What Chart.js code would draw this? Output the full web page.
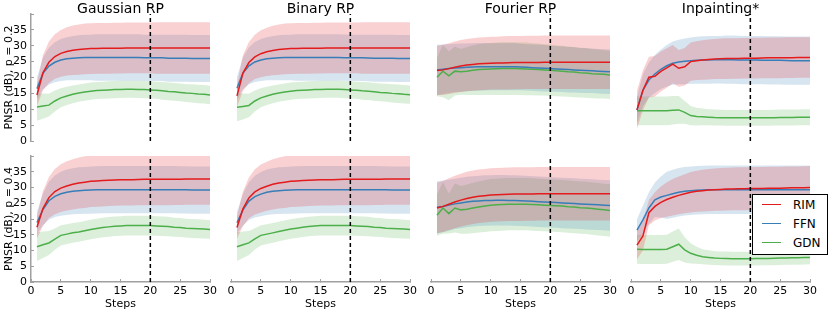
<!DOCTYPE html>
<html>
<head>
<meta charset="utf-8">
<script src="https://cdn.jsdelivr.net/npm/chart.js@4.4.1/dist/chart.umd.min.js"></script>
<style>
  html, body { margin: 0; padding: 0; background: #fff; }
  #fig { position: relative; width: 830px; height: 311px; overflow: hidden; font-family: "DejaVu Sans", sans-serif; }
  #fig canvas { position: absolute; }
  .ttl { position: absolute; top: -1px; width: 200px; text-align: center; font-size: 14px; line-height: 18px; color: #000; }
  #legend { position: absolute; left: 752px; top: 194px; width: 74px; height: 59px; border: 1px solid #000; background: #fff; font-size: 12px; color: #000; }
  #legend .item { position: absolute; left: 0; width: 74px; height: 14px; line-height: 14px; }
  #legend .swatch { position: absolute; left: 9px; top: 6px; width: 19px; height: 0; border-top: 1.5px solid; }
  #legend .lbl { position: absolute; left: 40px; top: 0; }
</style>
</head>
<body>
<div id="fig"></div>
<script>
// x positions of the reconstruction steps
const STEPS = [1, 2, 3, 4, 5, 6, 7, 8, 9, 10, 11, 12, 13, 14, 15, 16, 17, 18, 19, 20, 21, 22, 23, 24, 25, 26, 27, 28, 29, 30];
const STOP_STEP = 20;
const X_MIN = 0, X_MAX = 30, X_STEP = 5;
const Y_MIN = 0, Y_MAX = 40, Y_STEP = 5;

const METHODS = ["Gaussian RP", "Binary RP", "Fourier RP", "Inpainting*"];
const ROW_LABELS = ["PNSR (dB), p = 0.2", "PNSR (dB), p = 0.4"];
const SERIES = ["RIM", "FFN", "GDN"];
const COLORS = ["#e41a1c", "#377eb8", "#4daf4a"];
const FILLS = ["rgba(228,26,28,0.2)", "rgba(55,126,184,0.2)", "rgba(77,175,74,0.2)"];

// ---- p = 0.2 ----
const G2_RIM = [14.5, 21.5, 24.8, 26.6, 27.6, 28.2, 28.6, 28.8, 29.0, 29.1, 29.15, 29.2, 29.2, 29.25, 29.25, 29.3, 29.3, 29.3, 29.3, 29.3, 29.3, 29.3, 29.3, 29.3, 29.3, 29.3, 29.3, 29.3, 29.3, 29.3];
const G2_RIM_SD = [3.5, 5.5, 6.5, 7.0, 7.4, 7.6, 7.8, 7.9, 8.0, 8.0, 8.0, 8.0, 8.0, 8.0, 8.0, 8.0, 8.0, 8.0, 8.0, 8.0, 8.1, 8.1, 8.1, 8.1, 8.1, 8.1, 8.1, 8.1, 8.1, 8.1];
const G2_FFN = [16.5, 21.3, 23.6, 24.8, 25.5, 25.9, 26.1, 26.2, 26.3, 26.3, 26.3, 26.3, 26.3, 26.3, 26.3, 26.3, 26.3, 26.3, 26.2, 26.2, 26.2, 26.2, 26.1, 26.1, 26.1, 26.1, 26.0, 26.0, 26.0, 26.0];
const G2_FFN_SD = [3.5, 5.0, 5.8, 6.3, 6.6, 6.8, 7.0, 7.1, 7.2, 7.2, 7.3, 7.3, 7.3, 7.3, 7.3, 7.3, 7.3, 7.3, 7.3, 7.3, 7.3, 7.3, 7.4, 7.4, 7.4, 7.4, 7.4, 7.4, 7.4, 7.4];
const G2_GDN = [10.7, 11.0, 11.3, 12.6, 13.6, 14.2, 14.7, 15.1, 15.4, 15.7, 15.9, 16.0, 16.1, 16.2, 16.25, 16.3, 16.3, 16.25, 16.2, 16.1, 16.0, 15.8, 15.6, 15.5, 15.3, 15.1, 15.0, 14.8, 14.7, 14.5];
const G2_GDN_SD = [4.3, 4.0, 3.6, 3.3, 3.0, 2.9, 2.8, 2.7, 2.7, 2.7, 2.7, 2.7, 2.7, 2.7, 2.7, 2.7, 2.7, 2.7, 2.7, 2.7, 2.7, 2.8, 2.8, 2.8, 2.8, 2.8, 2.9, 2.9, 2.9, 2.9];

const B2_RIM = [14.2, 21.4, 24.7, 26.5, 27.5, 28.1, 28.5, 28.8, 29.0, 29.1, 29.15, 29.2, 29.2, 29.25, 29.25, 29.3, 29.3, 29.3, 29.3, 29.3, 29.3, 29.3, 29.3, 29.3, 29.3, 29.3, 29.3, 29.3, 29.3, 29.3];
const B2_RIM_SD = [3.5, 5.6, 6.5, 7.0, 7.4, 7.6, 7.8, 7.9, 8.0, 8.0, 8.0, 8.0, 8.0, 8.0, 8.0, 8.0, 8.0, 8.0, 8.0, 8.0, 8.0, 8.1, 8.1, 8.1, 8.1, 8.1, 8.1, 8.1, 8.1, 8.1];
const B2_FFN = [16.6, 21.4, 23.7, 24.9, 25.5, 25.9, 26.1, 26.2, 26.3, 26.3, 26.3, 26.3, 26.3, 26.3, 26.3, 26.3, 26.3, 26.3, 26.25, 26.2, 26.2, 26.2, 26.15, 26.1, 26.1, 26.1, 26.05, 26.0, 26.0, 26.0];
const B2_FFN_SD = [3.6, 5.0, 5.8, 6.3, 6.6, 6.8, 7.0, 7.1, 7.2, 7.2, 7.3, 7.3, 7.3, 7.3, 7.3, 7.3, 7.3, 7.3, 7.3, 7.3, 7.3, 7.3, 7.3, 7.4, 7.4, 7.4, 7.4, 7.4, 7.4, 7.4];
const B2_GDN = [10.6, 10.9, 11.2, 12.6, 13.6, 14.2, 14.7, 15.1, 15.4, 15.7, 15.9, 16.0, 16.1, 16.2, 16.25, 16.3, 16.3, 16.3, 16.2, 16.1, 16.0, 15.8, 15.7, 15.5, 15.3, 15.2, 15.0, 14.9, 14.7, 14.6];
const B2_GDN_SD = [4.4, 4.1, 3.7, 3.3, 3.0, 2.9, 2.8, 2.7, 2.7, 2.7, 2.7, 2.7, 2.7, 2.7, 2.7, 2.7, 2.7, 2.7, 2.7, 2.7, 2.7, 2.8, 2.8, 2.8, 2.8, 2.8, 2.9, 2.9, 2.9, 2.9];

const F2_RIM = [22.2, 22.4, 22.8, 23.2, 23.6, 23.9, 24.1, 24.3, 24.4, 24.5, 24.55, 24.6, 24.65, 24.7, 24.7, 24.75, 24.75, 24.75, 24.8, 24.8, 24.8, 24.8, 24.8, 24.8, 24.8, 24.8, 24.8, 24.8, 24.8, 24.8];
const F2_RIM_SD = [7.8, 7.9, 8.0, 8.1, 8.2, 8.2, 8.3, 8.3, 8.3, 8.3, 8.3, 8.4, 8.4, 8.4, 8.4, 8.4, 8.4, 8.4, 8.4, 8.4, 8.4, 8.4, 8.4, 8.4, 8.4, 8.4, 8.4, 8.4, 8.4, 8.4];
const F2_FFN = [22.4, 22.6, 22.8, 23.0, 23.1, 23.2, 23.3, 23.35, 23.4, 23.4, 23.4, 23.4, 23.4, 23.35, 23.3, 23.2, 23.1, 23.0, 22.9, 22.8, 22.7, 22.6, 22.5, 22.4, 22.3, 22.2, 22.1, 22.0, 21.9, 21.8];
const F2_FFN_SD = [7.9, 7.8, 7.7, 7.6, 7.6, 7.5, 7.5, 7.5, 7.5, 7.4, 7.4, 7.4, 7.4, 7.4, 7.3, 7.3, 7.3, 7.3, 7.3, 7.2, 7.2, 7.2, 7.2, 7.1, 7.1, 7.1, 7.0, 7.0, 7.0, 7.0];
const F2_GDN = [20.1, 22.0, 20.5, 22.0, 21.8, 22.0, 22.3, 22.5, 22.6, 22.7, 22.75, 22.8, 22.8, 22.8, 22.75, 22.7, 22.6, 22.5, 22.4, 22.3, 22.1, 22.0, 21.8, 21.7, 21.5, 21.4, 21.2, 21.1, 21.0, 20.8];
const F2_GDN_SD = [6.0, 8.2, 7.7, 7.7, 7.2, 7.5, 7.8, 8.0, 8.1, 8.2, 8.3, 8.3, 8.3, 8.3, 8.3, 8.3, 8.2, 8.2, 8.1, 8.1, 8.0, 8.0, 7.9, 7.9, 7.8, 7.8, 7.7, 7.7, 7.6, 7.6];

const I2_RIM = [9.8, 16.0, 20.1, 20.4, 21.9, 23.0, 24.2, 22.9, 23.4, 25.0, 25.3, 25.5, 25.7, 25.8, 25.9, 25.95, 26.0, 26.0, 26.05, 26.1, 26.1, 26.15, 26.2, 26.2, 26.2, 26.25, 26.25, 26.3, 26.3, 26.3];
const I2_RIM_SD = [6.0, 6.3, 6.4, 6.4, 6.3, 6.2, 6.0, 5.8, 5.9, 6.0, 6.1, 6.2, 6.3, 6.3, 6.4, 6.4, 6.4, 6.4, 6.4, 6.4, 6.4, 6.4, 6.4, 6.4, 6.4, 6.4, 6.4, 6.4, 6.4, 6.4];
const I2_FFN = [9.8, 16.0, 19.2, 21.1, 22.6, 23.7, 24.5, 24.9, 25.1, 25.3, 25.4, 25.5, 25.55, 25.6, 25.6, 25.6, 25.6, 25.55, 25.5, 25.5, 25.5, 25.45, 25.4, 25.4, 25.4, 25.35, 25.3, 25.3, 25.3, 25.3];
const I2_FFN_SD = [4.0, 5.0, 5.5, 6.0, 6.2, 6.5, 6.8, 7.0, 7.2, 7.3, 7.4, 7.5, 7.5, 7.5, 7.5, 7.6, 7.6, 7.6, 7.6, 7.6, 7.6, 7.6, 7.6, 7.6, 7.6, 7.6, 7.6, 7.6, 7.6, 7.6];
const I2_GDN = [9.5, 9.5, 9.5, 9.5, 9.5, 9.5, 9.7, 9.8, 9.0, 8.0, 7.7, 7.6, 7.5, 7.4, 7.35, 7.3, 7.3, 7.3, 7.3, 7.3, 7.3, 7.3, 7.3, 7.35, 7.4, 7.4, 7.4, 7.45, 7.5, 7.5];
const I2_GDN_SD = [4.5, 4.5, 4.5, 4.5, 4.5, 4.5, 4.5, 4.4, 3.6, 3.0, 2.8, 2.6, 2.5, 2.5, 2.5, 2.5, 2.5, 2.5, 2.5, 2.5, 2.5, 2.5, 2.5, 2.5, 2.5, 2.5, 2.5, 2.5, 2.5, 2.5];

// ---- p = 0.4 ----
const G4_RIM = [17.4, 23.3, 26.8, 28.7, 29.8, 30.5, 31.0, 31.4, 31.7, 32.0, 32.1, 32.2, 32.3, 32.4, 32.45, 32.5, 32.5, 32.55, 32.6, 32.6, 32.6, 32.6, 32.6, 32.65, 32.65, 32.7, 32.7, 32.7, 32.7, 32.7];
const G4_RIM_SD = [3.5, 5.5, 6.5, 7.2, 7.6, 7.8, 8.0, 8.1, 8.2, 8.2, 8.2, 8.2, 8.2, 8.2, 8.2, 8.2, 8.2, 8.2, 8.2, 8.2, 8.2, 8.2, 8.2, 8.2, 8.2, 8.2, 8.2, 8.2, 8.2, 8.2];
const G4_FFN = [18.9, 23.0, 25.8, 27.2, 28.0, 28.5, 28.8, 29.0, 29.1, 29.2, 29.25, 29.3, 29.3, 29.3, 29.3, 29.3, 29.3, 29.3, 29.3, 29.3, 29.3, 29.3, 29.3, 29.3, 29.25, 29.25, 29.2, 29.2, 29.2, 29.2];
const G4_FFN_SD = [3.5, 5.0, 6.0, 6.6, 7.0, 7.2, 7.3, 7.4, 7.4, 7.5, 7.5, 7.5, 7.5, 7.5, 7.5, 7.5, 7.5, 7.5, 7.5, 7.5, 7.5, 7.5, 7.5, 7.5, 7.5, 7.5, 7.5, 7.5, 7.5, 7.5];
const G4_GDN = [11.2, 11.8, 12.4, 13.6, 14.8, 15.2, 15.6, 15.9, 16.3, 16.7, 17.0, 17.3, 17.5, 17.7, 17.8, 17.9, 17.9, 17.9, 17.9, 17.9, 17.8, 17.7, 17.6, 17.4, 17.3, 17.1, 17.0, 16.9, 16.8, 16.7];
const G4_GDN_SD = [4.5, 4.2, 3.8, 3.4, 3.2, 3.1, 3.1, 3.1, 3.1, 3.1, 3.1, 3.1, 3.1, 3.1, 3.1, 3.1, 3.1, 3.1, 3.1, 3.1, 3.1, 3.1, 3.1, 3.0, 3.0, 3.0, 3.0, 3.0, 3.0, 3.0];

const B4_RIM = [17.3, 23.2, 26.7, 28.6, 29.7, 30.4, 31.0, 31.4, 31.7, 32.0, 32.1, 32.2, 32.3, 32.4, 32.45, 32.5, 32.5, 32.55, 32.6, 32.6, 32.6, 32.6, 32.6, 32.65, 32.65, 32.7, 32.7, 32.7, 32.7, 32.7];
const B4_RIM_SD = [3.5, 5.5, 6.5, 7.2, 7.6, 7.8, 8.0, 8.1, 8.2, 8.2, 8.2, 8.2, 8.2, 8.2, 8.2, 8.2, 8.2, 8.2, 8.2, 8.2, 8.2, 8.2, 8.2, 8.2, 8.2, 8.2, 8.2, 8.2, 8.2, 8.2];
const B4_FFN = [18.8, 22.9, 25.7, 27.1, 27.9, 28.5, 28.8, 29.0, 29.1, 29.2, 29.25, 29.3, 29.3, 29.3, 29.3, 29.3, 29.3, 29.3, 29.3, 29.3, 29.3, 29.3, 29.3, 29.3, 29.25, 29.25, 29.2, 29.2, 29.2, 29.2];
const B4_FFN_SD = [3.5, 5.0, 6.0, 6.6, 7.0, 7.2, 7.3, 7.4, 7.4, 7.5, 7.5, 7.5, 7.5, 7.5, 7.5, 7.5, 7.5, 7.5, 7.5, 7.5, 7.5, 7.5, 7.5, 7.5, 7.5, 7.5, 7.5, 7.5, 7.5, 7.5];
const B4_GDN = [11.2, 11.8, 12.4, 13.7, 14.8, 15.2, 15.6, 16.0, 16.4, 16.8, 17.1, 17.4, 17.6, 17.8, 17.9, 17.9, 17.9, 17.9, 17.9, 17.9, 17.8, 17.7, 17.6, 17.4, 17.3, 17.1, 17.0, 16.9, 16.8, 16.7];
const B4_GDN_SD = [4.5, 4.2, 3.8, 3.4, 3.2, 3.1, 3.1, 3.1, 3.1, 3.1, 3.1, 3.1, 3.1, 3.1, 3.1, 3.1, 3.1, 3.1, 3.1, 3.1, 3.1, 3.1, 3.1, 3.0, 3.0, 3.0, 3.0, 3.0, 3.0, 3.0];

const F4_RIM = [23.5, 24.0, 24.7, 25.4, 26.0, 26.5, 26.9, 27.2, 27.4, 27.6, 27.7, 27.8, 27.85, 27.9, 27.9, 27.95, 27.95, 28.0, 28.0, 28.0, 28.0, 28.0, 28.0, 28.0, 28.0, 28.0, 28.0, 28.0, 28.0, 28.0];
const F4_RIM_SD = [8.0, 8.1, 8.2, 8.3, 8.4, 8.5, 8.5, 8.5, 8.5, 8.5, 8.5, 8.5, 8.5, 8.5, 8.5, 8.5, 8.5, 8.5, 8.5, 8.5, 8.5, 8.5, 8.5, 8.5, 8.5, 8.5, 8.5, 8.5, 8.5, 8.5];
const F4_FFN = [23.7, 24.0, 24.4, 24.8, 25.1, 25.4, 25.6, 25.75, 25.85, 25.9, 25.95, 25.95, 25.9, 25.85, 25.8, 25.7, 25.6, 25.5, 25.4, 25.3, 25.2, 25.1, 25.0, 24.9, 24.8, 24.7, 24.6, 24.5, 24.4, 24.3];
const F4_FFN_SD = [8.3, 8.2, 8.1, 8.0, 8.0, 8.0, 8.0, 8.0, 8.0, 8.0, 8.0, 8.0, 8.0, 8.0, 8.0, 8.0, 8.0, 8.0, 8.0, 8.0, 8.0, 8.0, 8.0, 8.0, 8.0, 8.0, 8.0, 8.0, 8.0, 8.0];
const F4_GDN = [21.2, 23.5, 21.7, 23.5, 22.9, 23.1, 23.5, 23.8, 24.1, 24.4, 24.5, 24.6, 24.7, 24.7, 24.7, 24.7, 24.6, 24.5, 24.4, 24.3, 24.2, 24.1, 23.9, 23.8, 23.6, 23.5, 23.3, 23.1, 22.9, 22.7];
const F4_GDN_SD = [6.5, 8.2, 6.3, 7.8, 7.6, 7.8, 8.0, 8.1, 8.2, 8.3, 8.3, 8.3, 8.3, 8.3, 8.3, 8.3, 8.3, 8.3, 8.3, 8.3, 8.3, 8.3, 8.3, 8.3, 8.3, 8.3, 8.3, 8.3, 8.3, 8.3];

const I4_RIM = [11.7, 14.6, 22.0, 24.0, 25.3, 26.2, 26.9, 27.5, 28.0, 28.5, 28.8, 29.0, 29.2, 29.3, 29.4, 29.5, 29.55, 29.6, 29.6, 29.65, 29.7, 29.7, 29.75, 29.8, 29.8, 29.85, 29.9, 29.9, 29.95, 30.0];
const I4_RIM_SD = [4.5, 4.5, 4.0, 4.5, 5.0, 5.5, 5.8, 6.0, 6.2, 6.4, 6.5, 6.6, 6.7, 6.7, 6.8, 6.8, 6.8, 6.8, 6.8, 6.8, 6.8, 6.8, 6.8, 6.8, 6.8, 6.8, 6.8, 6.8, 6.8, 6.8];
const I4_FFN = [16.5, 19.7, 23.5, 26.1, 27.0, 27.5, 28.0, 28.5, 28.8, 29.0, 29.1, 29.2, 29.25, 29.3, 29.3, 29.3, 29.3, 29.3, 29.3, 29.3, 29.3, 29.3, 29.3, 29.3, 29.3, 29.3, 29.3, 29.3, 29.3, 29.3];
const I4_FFN_SD = [3.5, 4.5, 5.0, 5.5, 6.5, 7.5, 7.6, 7.7, 7.7, 7.7, 7.7, 7.7, 7.7, 7.7, 7.7, 7.7, 7.7, 7.7, 7.7, 7.7, 7.7, 7.7, 7.7, 7.7, 7.7, 7.7, 7.7, 7.7, 7.7, 7.7];
const I4_GDN = [10.4, 10.3, 10.3, 10.3, 10.3, 10.4, 11.2, 12.0, 10.2, 9.1, 8.5, 8.0, 7.8, 7.6, 7.5, 7.45, 7.4, 7.4, 7.4, 7.4, 7.45, 7.5, 7.5, 7.55, 7.6, 7.65, 7.7, 7.7, 7.75, 7.8];
const I4_GDN_SD = [4.6, 4.6, 4.6, 4.6, 4.6, 4.6, 4.8, 5.0, 4.0, 3.2, 2.7, 2.4, 2.3, 2.2, 2.2, 2.2, 2.2, 2.2, 2.2, 2.2, 2.2, 2.2, 2.2, 2.2, 2.2, 2.2, 2.2, 2.2, 2.2, 2.2];

// panels in reading order: [row][col] -> [mean, sd] per series
const PANELS = [
  [
    [[G2_RIM, G2_RIM_SD], [G2_FFN, G2_FFN_SD], [G2_GDN, G2_GDN_SD]],
    [[B2_RIM, B2_RIM_SD], [B2_FFN, B2_FFN_SD], [B2_GDN, B2_GDN_SD]],
    [[F2_RIM, F2_RIM_SD], [F2_FFN, F2_FFN_SD], [F2_GDN, F2_GDN_SD]],
    [[I2_RIM, I2_RIM_SD], [I2_FFN, I2_FFN_SD], [I2_GDN, I2_GDN_SD]]
  ],
  [
    [[G4_RIM, G4_RIM_SD], [G4_FFN, G4_FFN_SD], [G4_GDN, G4_GDN_SD]],
    [[B4_RIM, B4_RIM_SD], [B4_FFN, B4_FFN_SD], [B4_GDN, B4_GDN_SD]],
    [[F4_RIM, F4_RIM_SD], [F4_FFN, F4_FFN_SD], [F4_GDN, F4_GDN_SD]],
    [[I4_RIM, I4_RIM_SD], [I4_FFN, I4_FFN_SD], [I4_GDN, I4_GDN_SD]]
  ]
];

const FONT = "DejaVu Sans";
const AXIS_GREY = "#a0a0a0";
const fig = document.getElementById("fig");

Chart.defaults.font.family = FONT;

function pts(values) {
  return STEPS.map((x, i) => ({ x, y: values[i] }));
}

function buildDatasets(panel) {
  const lines = [];
  const bands = [];
  panel.forEach(([mean, sd], i) => {
    lines.push({
      label: SERIES[i],
      data: pts(mean),
      borderColor: COLORS[i],
      borderWidth: 1.5,
      pointRadius: 0,
      fill: false,
      order: 1
    });
    bands.push({
      data: pts(mean.map((m, k) => m + sd[k])),
      borderColor: "rgba(0,0,0,0)",
      borderWidth: 0,
      pointRadius: 0,
      backgroundColor: FILLS[i],
      fill: "+1",
      order: 2
    });
    bands.push({
      data: pts(mean.map((m, k) => m - sd[k])),
      borderColor: "rgba(0,0,0,0)",
      borderWidth: 0,
      pointRadius: 0,
      fill: false,
      order: 2
    });
  });
  const stop = {
    data: [{ x: STOP_STEP, y: Y_MIN }, { x: STOP_STEP, y: Y_MAX }],
    borderColor: "#000",
    borderWidth: 1.5,
    borderDash: [4, 3],
    pointRadius: 0,
    fill: false,
    order: 0
  };
  // band pairs must stay adjacent for fill "+1"
  return [stop, ...lines, ...bands];
}

function makePanel(row, col) {
  const canvas = document.createElement("canvas");
  const top = row === 0 ? 0 : 150;
  const height = row === 0 ? 150 : 161;
  canvas.width = 220;
  canvas.height = height;
  canvas.style.left = (200 * col) + "px";
  canvas.style.top = top + "px";
  fig.appendChild(canvas);

  const showY = col === 0;
  const showX = row === 1;

  new Chart(canvas, {
    type: "line",
    data: { datasets: buildDatasets(PANELS[row][col]) },
    options: {
      responsive: false,
      animation: false,
      devicePixelRatio: 1,
      events: [],
      layout: {
        padding: {
          left: 0,
          right: 10,
          top: row === 0 ? 14 : 6,
          bottom: showX ? 0 : 9
        }
      },
      plugins: {
        legend: { display: false },
        tooltip: { enabled: false }
      },
      scales: {
        x: {
          type: "linear",
          min: X_MIN,
          max: X_MAX,
          display: showX,
          border: { color: AXIS_GREY, width: 1.5 },
          grid: { drawOnChartArea: false, color: AXIS_GREY, tickLength: -3 },
          ticks: { stepSize: X_STEP, autoSkip: false, color: "#000", font: { size: 11 }, padding: 6, maxRotation: 0 },
          title: { display: true, text: "Steps", color: "#000", font: { size: 11 }, padding: 0 },
          afterFit: (s) => {
            s.height = showX ? 29 : 0;
            s.paddingLeft = 0;
            s.paddingRight = 0;
          }
        },
        y: {
          type: "linear",
          min: Y_MIN,
          max: Y_MAX,
          // hidden y axes still take the same width so every plot area lines up
          display: true,
          border: { display: showY, color: AXIS_GREY, width: 1.5 },
          grid: { display: showY, drawOnChartArea: false, color: AXIS_GREY, tickLength: -3 },
          ticks: {
            display: showY,
            stepSize: Y_STEP,
            autoSkip: false,
            color: "#000",
            font: { size: 11 },
            padding: 7,
            callback: (v) => (v === Y_MAX ? "" : v)
          },
          title: { display: showY, text: ROW_LABELS[row], color: "#000", font: { size: 11 }, padding: { top: 3, bottom: 0 } },
          afterFit: (s) => {
            s.width = 31;
            s.paddingTop = 0;
            s.paddingBottom = 0;
          }
        }
      }
    }
  });
}

for (let r = 0; r < 2; r++) {
  for (let c = 0; c < 4; c++) makePanel(r, c);
}

// column titles
METHODS.forEach((m, c) => {
  const d = document.createElement("div");
  d.className = "ttl";
  d.textContent = m;
  d.style.left = (20.5 + 200 * c) + "px";
  fig.appendChild(d);
});

// legend box in the last panel
const legend = document.createElement("div");
legend.id = "legend";
const ROW_Y = [3, 22, 41];
SERIES.forEach((s, i) => {
  const item = document.createElement("div");
  item.className = "item";
  item.style.top = ROW_Y[i] + "px";
  item.innerHTML = `<span class="swatch" style="border-color:${COLORS[i]}"></span><span class="lbl">${s}</span>`;
  legend.appendChild(item);
});
fig.appendChild(legend);
</script>
</body>
</html>
